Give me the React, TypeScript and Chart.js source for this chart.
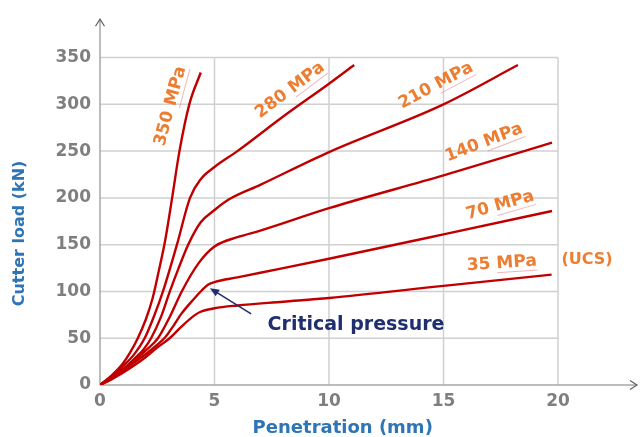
import React, { useEffect, useRef } from "react";
import { Chart, registerables } from "chart.js";

Chart.register(...registerables);

// ---- data ----
const seriesNames = ["350 MPa", "280 MPa", "210 MPa", "140 MPa", "70 MPa", "35 MPa"];

const x350 = [0, 0.5, 1, 1.3, 1.65, 2.0, 2.3, 2.55, 2.85, 3.15, 3.47, 3.9, 4.4];
const y350 = [0, 10, 23, 34, 50, 70, 93, 120, 155, 200, 250, 300, 334];

const x280 = [0, 0.5, 1, 1.5, 1.95, 2.35, 2.75, 3.36, 3.93, 4.4, 5, 6, 8, 10, 11.1];
const y280 = [0, 9, 20, 33, 50, 73, 100, 150, 200, 220, 233, 250, 287, 322, 342];

const x210 = [0, 0.5, 1, 1.5, 1.9, 2.23, 2.65, 3.05, 3.45, 3.85, 4.4, 5, 5.6, 7, 10, 15, 18.25];
const y210 = [0, 8, 17, 28, 38, 50, 72, 100, 126, 150, 174, 187, 198, 214, 249, 300, 342];

const x140 = [0, 0.5, 1, 1.5, 2, 2.53, 3.05, 3.57, 4.3, 5, 6, 7, 10, 15, 19.74];
const y140 = [0, 8, 16, 26, 37, 50, 73, 100, 130, 148, 158, 165, 189, 224, 259];

const x70 = [0, 0.5, 1, 1.5, 2.1, 2.5, 2.85, 3.2, 3.55, 4.1, 4.44, 4.7, 5, 6, 7, 10, 15, 19.74];
const y70 = [0, 7, 15, 24, 35, 43, 51, 63, 76, 92, 101, 107, 110, 115, 120, 135, 161, 186];

const x35 = [0, 0.5, 1, 1.5, 2, 2.5, 3.04, 3.5, 4, 4.37, 5, 6, 8, 10, 15, 19.72];
const y35 = [0, 6, 13, 21, 30, 40, 50, 61, 72, 78, 82, 85, 89, 93, 106, 118];

const xTickStep = 5;
const yTickStep = 50;
const xAxisMax = 23.45;
const yAxisMax = 391;

const xTitle = "Penetration (mm)";
const yTitle = "Cutter load (kN)";
const noteText = "Critical pressure";
const ucsText = "(UCS)";

// ---- annotation placement (data coordinates) ----
const labelAnchors = [
  { x: 3.08, y: 298, angle: -75 },
  { x: 8.3, y: 315, angle: -37 },
  { x: 14.67, y: 320, angle: -28 },
  { x: 16.77, y: 259, angle: -21 },
  { x: 17.47, y: 192, angle: -16 },
  { x: 17.55, y: 130, angle: -4 },
];
const ucsAnchor = { x: 21.27, y: 134 };
const noteAnchor = { x: 11.18, y: 64.5 };
const noteArrow = { fromX: 6.6, fromY: 76, toX: 4.8, toY: 103.5 };

const FONT = "'DejaVu Sans', sans-serif";
const LINE_RED = "#C00000";
const ORANGE = "#ED7D31";
const TITLE_BLUE = "#2E75B6";
const NAVY = "#1F2E6E";
const TICK_GRAY = "#7F7F7F";

const xs = [x350, x280, x210, x140, x70, x35];
const ys = [y350, y280, y210, y140, y70, y35];

const decorPlugin = {
  id: "decor",
  beforeDatasetsDraw(chart: any) {
    const { ctx, chartArea } = chart;
    const xs_ = chart.scales.x;
    const ys_ = chart.scales.y;
    const xTicks = xs_.ticks.map((t: any) => t.value);
    const yTicks = ys_.ticks.map((t: any) => t.value);
    const gx = xTicks[xTicks.length - 1];
    const gy = yTicks[yTicks.length - 1];
    const x0 = xs_.getPixelForValue(0);
    const y0 = ys_.getPixelForValue(0);
    ctx.save();
    ctx.strokeStyle = "#D0D0D0";
    ctx.lineWidth = 1.5;
    for (const v of xTicks) {
      if (v <= 0) continue;
      const px = xs_.getPixelForValue(v);
      ctx.beginPath();
      ctx.moveTo(px, y0);
      ctx.lineTo(px, ys_.getPixelForValue(gy));
      ctx.stroke();
    }
    for (const v of yTicks) {
      if (v <= 0) continue;
      const py = ys_.getPixelForValue(v);
      ctx.beginPath();
      ctx.moveTo(x0, py);
      ctx.lineTo(xs_.getPixelForValue(gx), py);
      ctx.stroke();
    }
    // axes with open arrow heads
    ctx.strokeStyle = "#A6A6A6";
    ctx.lineWidth = 1.5;
    ctx.beginPath();
    ctx.moveTo(x0, y0);
    ctx.lineTo(x0, chartArea.top);
    ctx.moveTo(x0, y0);
    ctx.lineTo(chartArea.right, y0);
    ctx.stroke();
    ctx.strokeStyle = "#606060";
    ctx.lineWidth = 1.2;
    ctx.beginPath();
    ctx.moveTo(x0 - 4.5, chartArea.top + 7);
    ctx.lineTo(x0, chartArea.top);
    ctx.lineTo(x0 + 4.5, chartArea.top + 7);
    ctx.moveTo(chartArea.right - 7, y0 - 4.5);
    ctx.lineTo(chartArea.right, y0);
    ctx.lineTo(chartArea.right - 7, y0 + 4.5);
    ctx.stroke();
    ctx.restore();
  },
  afterDatasetsDraw(chart: any) {
    const { ctx } = chart;
    const sx = chart.scales.x;
    const sy = chart.scales.y;
    ctx.save();
    // series labels
    ctx.font = `bold 17px ${FONT}`;
    ctx.textAlign = "center";
    ctx.textBaseline = "middle";
    seriesNames.forEach((name, i) => {
      const a = labelAnchors[i];
      ctx.save();
      ctx.translate(sx.getPixelForValue(a.x), sy.getPixelForValue(a.y));
      ctx.rotate((a.angle * Math.PI) / 180);
      ctx.fillStyle = ORANGE;
      ctx.fillText(name, 0, 0);
      const w = ctx.measureText(name).width;
      const m = ctx.measureText("MPa").width;
      ctx.strokeStyle = "rgba(230,120,130,0.55)";
      ctx.lineWidth = 1;
      ctx.beginPath();
      ctx.moveTo(w / 2 - m, 9);
      ctx.lineTo(w / 2, 9);
      ctx.stroke();
      ctx.restore();
    });
    // (UCS)
    ctx.font = `bold 16px ${FONT}`;
    ctx.fillStyle = ORANGE;
    ctx.fillText(ucsText, sx.getPixelForValue(ucsAnchor.x), sy.getPixelForValue(ucsAnchor.y));
    // critical pressure
    ctx.font = `bold 19px ${FONT}`;
    ctx.fillStyle = NAVY;
    ctx.fillText(noteText, sx.getPixelForValue(noteAnchor.x), sy.getPixelForValue(noteAnchor.y));
    const ax1 = sx.getPixelForValue(noteArrow.fromX);
    const ay1 = sy.getPixelForValue(noteArrow.fromY);
    const ax2 = sx.getPixelForValue(noteArrow.toX);
    const ay2 = sy.getPixelForValue(noteArrow.toY);
    const ang = Math.atan2(ay2 - ay1, ax2 - ax1);
    ctx.strokeStyle = NAVY;
    ctx.lineWidth = 1.6;
    ctx.beginPath();
    ctx.moveTo(ax1, ay1);
    ctx.lineTo(ax2 - Math.cos(ang) * 6, ay2 - Math.sin(ang) * 6);
    ctx.stroke();
    ctx.fillStyle = NAVY;
    ctx.beginPath();
    ctx.moveTo(ax2, ay2);
    ctx.lineTo(ax2 - Math.cos(ang - 0.4) * 10, ay2 - Math.sin(ang - 0.4) * 10);
    ctx.lineTo(ax2 - Math.cos(ang + 0.4) * 10, ay2 - Math.sin(ang + 0.4) * 10);
    ctx.closePath();
    ctx.fill();
    // axis titles
    ctx.fillStyle = TITLE_BLUE;
    ctx.font = `bold 18px ${FONT}`;
    ctx.fillText(xTitle, sx.getPixelForValue(10.6), 428);
    ctx.save();
    ctx.translate(20, sy.getPixelForValue(162));
    ctx.rotate(-Math.PI / 2);
    ctx.font = `bold 16px ${FONT}`;
    ctx.fillText(yTitle, 0, 0);
    ctx.restore();
    ctx.restore();
  },
};

export default function App() {
  const canvasRef = useRef<HTMLCanvasElement | null>(null);

  useEffect(() => {
    if (!canvasRef.current) return;
    const datasets = seriesNames.map((name, i) => ({
      label: name,
      data: xs[i].map((xv, j) => ({ x: xv, y: ys[i][j] })),
      borderColor: LINE_RED,
      borderWidth: 2.4,
      pointRadius: 0,
      fill: false,
      cubicInterpolationMode: "monotone" as const,
    }));
    const chart = new Chart(canvasRef.current, {
      type: "line",
      data: { datasets },
      plugins: [decorPlugin],
      options: {
        animation: false,
        responsive: true,
        maintainAspectRatio: false,
        layout: { padding: { left: 0, right: 3, top: 14, bottom: 0 } },
        plugins: { legend: { display: false }, tooltip: { enabled: false } },
        scales: {
          x: {
            type: "linear",
            min: 0,
            max: xAxisMax,
            afterFit: (s: any) => {
              s.height = 52;
            },
            grid: { display: false, drawTicks: false },
            border: { display: false },
            ticks: {
              stepSize: xTickStep,
              includeBounds: false,
              padding: 6,
              color: TICK_GRAY,
              font: { family: FONT, size: 17, weight: "bold" },
              maxRotation: 0,
            },
          },
          y: {
            type: "linear",
            min: 0,
            max: yAxisMax,
            afterFit: (s: any) => {
              s.width = 100;
            },
            grid: { display: false, drawTicks: false },
            border: { display: false },
            ticks: {
              stepSize: yTickStep,
              includeBounds: false,
              padding: 9,
              color: TICK_GRAY,
              font: { family: FONT, size: 17, weight: "bold" },
            },
          },
        },
      } as any,
    });
    return () => chart.destroy();
  }, []);

  return (
    <div style={{ position: "absolute", left: 0, top: 0, width: 640, height: 437, background: "#fff" }}>
      <canvas ref={canvasRef} />
    </div>
  );
}
